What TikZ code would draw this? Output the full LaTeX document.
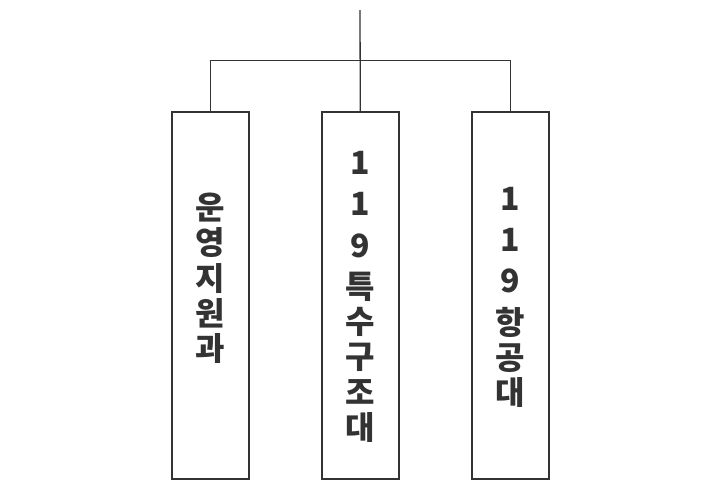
\documentclass[tikz,border=0pt]{standalone}
\usepackage{fontspec}
\newfontfamily\kr{Noto Sans CJK KR}
\usetikzlibrary{positioning}
\definecolor{ink}{HTML}{333333}

\begin{document}
\begin{tikzpicture}[x=1pt, y=-1pt,
		unit/.style={draw=ink, line width=2pt, minimum width=77.3pt, minimum height=366.7pt, inner sep=0pt},
		label/.style={text=ink, font=\kr\bfseries\fontsize{32}{35.3}\selectfont, align=center, inner sep=0pt, anchor=north},
		link/.style={draw=ink, line width=1.3pt}]
				\useasboundingbox (0,0) rectangle (720,491);
				\coordinate (root) at (360, 10);
				\coordinate (bar) at (360, 60.5);
				\node[unit] (ops) at (210.3, 295.8) {};
				\node[unit] (rescue) at (360.3, 295.8) {};
				\node[unit] (air) at (510.3, 295.8) {};
				\node[label] (opsname) at (ops.center |- 0, 192.7) {운\\영\\지\\원\\과};
				\node[label] (rescuename) at (rescue.center |- 0, 151) {1\\[6pt]1\\[6pt]9\\[6pt]특\\수\\구\\조\\대};
				\node[label] (airname) at (air.center |- 0, 186.7) {1\\[6pt]1\\[6pt]9\\[6pt]항\\공\\대};
				\draw[link] (root) -- (rescue.north);
				\draw[link] (ops.north) |- (bar) -| (air.north);
			\end{tikzpicture}
\end{document}
